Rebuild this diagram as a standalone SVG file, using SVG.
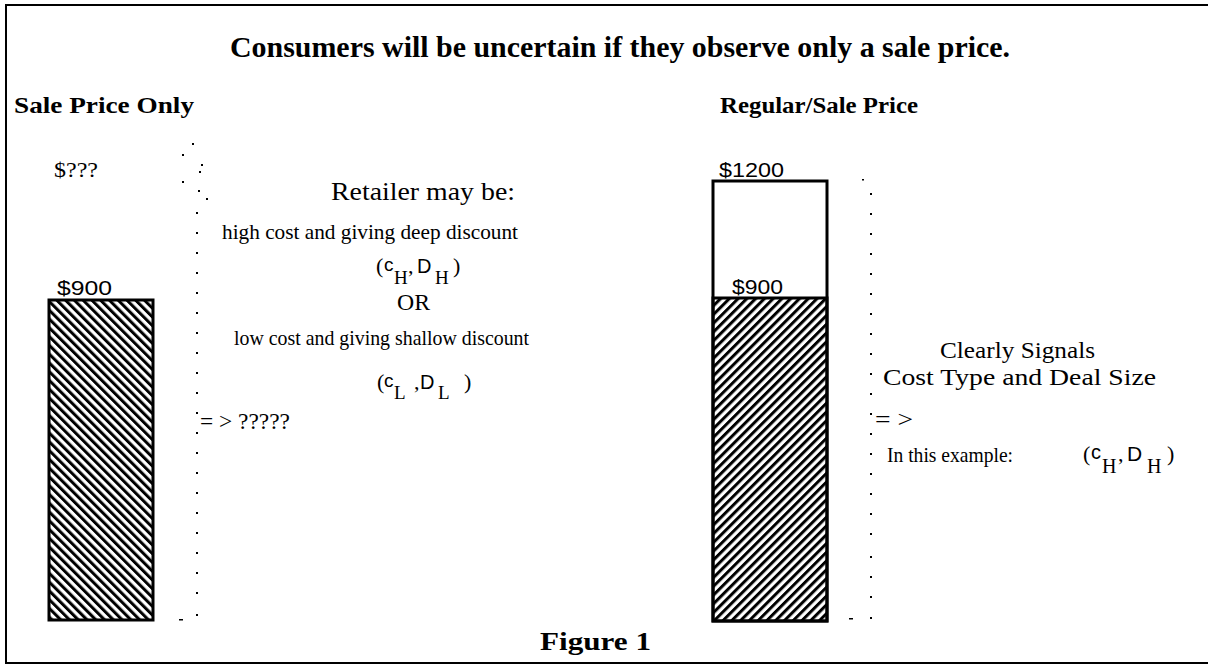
<svg xmlns="http://www.w3.org/2000/svg" width="1208" height="664" viewBox="0 0 1208 664">
  <style>
    .serif { font-family: "Liberation Serif", "Times New Roman", serif; fill: #000; }
    .sans { font-family: "Liberation Sans", Arial, sans-serif; fill: #000; }
    .head { font-weight: bold; font-size: 24px; }
    .body { font-size: 22px; }
    .price { font-size: 21px; }
    .bar { stroke: #000; stroke-width: 3; }
    .dot { fill: #000; }
  </style>
  <defs>
    <!-- "\" hatching for the sale-price-only bar -->
    <pattern id="hatchBack" patternUnits="userSpaceOnUse" width="6.2" height="6.2" patternTransform="rotate(-45)">
      <rect width="3" height="6.2" fill="#000"/>
    </pattern>
    <!-- "/" hatching for the sale part of the regular/sale bar -->
    <pattern id="hatchFwd" patternUnits="userSpaceOnUse" width="6.2" height="6.2" patternTransform="rotate(45)">
      <rect width="3" height="6.2" fill="#000"/>
    </pattern>
  </defs>

  <rect width="1208" height="664" fill="#fff"/>

  <!-- frame -->
  <path d="M6,664 V5 H1208 M6,663 H1208" fill="none" stroke="#000" stroke-width="2"/>

  <!-- title -->
  <text class="serif" x="230" y="57" font-size="30" font-weight="bold" textLength="780" lengthAdjust="spacingAndGlyphs">Consumers will be uncertain if they observe only a sale price.</text>

  <!-- left panel: sale price only -->
  <g id="sale-only">
    <text class="serif head" x="14" y="113" textLength="180" lengthAdjust="spacingAndGlyphs">Sale Price Only</text>
    <text class="serif" x="54" y="177" font-size="22" textLength="44" lengthAdjust="spacingAndGlyphs">$???</text>
    <text class="sans price" x="57" y="295" textLength="55" lengthAdjust="spacingAndGlyphs">$900</text>
    <rect class="bar" x="49" y="300" width="104" height="320" fill="url(#hatchBack)"/>
  </g>

  <!-- middle text: possible interpretations -->
  <g id="interpretations">
    <text class="serif" x="331" y="200" font-size="25" textLength="184" lengthAdjust="spacingAndGlyphs">Retailer may be:</text>
    <text class="serif" x="222" y="239" font-size="21.5" textLength="296" lengthAdjust="spacingAndGlyphs">high cost and giving deep discount</text>
    <g id="pair-high-left">
      <text class="serif body" x="376" y="273">(</text>
      <text class="sans" x="384" y="271" font-size="19">c</text>
      <text class="serif" x="394" y="284" font-size="19">H</text>
      <text class="serif body" x="408" y="273">,</text>
      <text class="sans" x="417" y="273" font-size="20">D</text>
      <text class="serif" x="435" y="284" font-size="19">H</text>
      <text class="serif body" x="453" y="273">)</text>
    </g>
    <text class="serif" x="397" y="310" font-size="23" textLength="33" lengthAdjust="spacingAndGlyphs">OR</text>
    <text class="serif" x="234" y="345" font-size="21" textLength="295" lengthAdjust="spacingAndGlyphs">low cost and giving shallow discount</text>
    <g id="pair-low">
      <text class="serif body" x="377" y="389">(</text>
      <text class="sans" x="384" y="387" font-size="19">c</text>
      <text class="serif" x="394" y="399" font-size="19">L</text>
      <text class="serif body" x="414" y="389">,</text>
      <text class="sans" x="420" y="389" font-size="20">D</text>
      <text class="serif" x="438" y="399" font-size="19">L</text>
      <text class="serif body" x="464" y="389">)</text>
    </g>
    <text class="serif" x="200" y="429" font-size="23" textLength="90" lengthAdjust="spacingAndGlyphs">= &gt; ?????</text>
  </g>

  <!-- right panel: regular and sale price -->
  <g id="regular-sale">
    <text class="serif head" x="720" y="113" textLength="198" lengthAdjust="spacingAndGlyphs">Regular/Sale Price</text>
    <text class="sans price" x="719" y="177" textLength="65" lengthAdjust="spacingAndGlyphs">$1200</text>
    <rect class="bar" x="713" y="181" width="114" height="440" fill="#fff"/>
    <rect class="bar" x="713" y="298" width="114" height="323" fill="url(#hatchFwd)"/>
    <text class="sans price" x="732" y="294" textLength="51" lengthAdjust="spacingAndGlyphs">$900</text>
  </g>

  <!-- right text: conclusion -->
  <g id="conclusion">
    <text class="serif" x="940" y="358" font-size="24" textLength="155" lengthAdjust="spacingAndGlyphs">Clearly Signals</text>
    <text class="serif" x="883" y="385" font-size="24" textLength="273" lengthAdjust="spacingAndGlyphs">Cost Type and Deal Size</text>
    <text class="serif" x="875" y="427" font-size="23" textLength="38" lengthAdjust="spacingAndGlyphs">= &gt;</text>
    <text class="serif" x="887" y="462" font-size="21" textLength="126" lengthAdjust="spacingAndGlyphs">In this example:</text>
    <g id="pair-high-right">
      <text class="serif body" x="1083" y="461">(</text>
      <text class="sans" x="1091" y="459" font-size="20">c</text>
      <text class="serif" x="1102" y="473" font-size="20">H</text>
      <text class="serif body" x="1118" y="461">,</text>
      <text class="sans" x="1127" y="461" font-size="21">D</text>
      <text class="serif" x="1147" y="473" font-size="20">H</text>
      <text class="serif body" x="1167" y="461">)</text>
    </g>
  </g>

  <!-- dotted separators -->
  <g id="connectors">
    <g id="sep-left" class="dot">
      <rect x="192" y="143" width="2" height="2"/>
      <rect x="182" y="154" width="2" height="2"/>
      <rect x="201" y="164" width="2" height="2"/>
      <rect x="199" y="171" width="2" height="2"/>
      <rect x="182" y="181" width="2" height="2"/>
      <rect x="198" y="190" width="2" height="2"/>
      <rect x="206" y="198" width="2" height="2"/>
      <rect x="196" y="212" width="2" height="2"/>
      <rect x="196" y="232" width="2" height="2"/>
      <rect x="196" y="252" width="2" height="2"/>
      <rect x="196" y="272" width="2" height="2"/>
      <rect x="196" y="292" width="2" height="2"/>
      <rect x="196" y="312" width="2" height="2"/>
      <rect x="196" y="332" width="2" height="2"/>
      <rect x="196" y="352" width="2" height="2"/>
      <rect x="196" y="372" width="2" height="2"/>
      <rect x="196" y="392" width="2" height="2"/>
      <rect x="196" y="412" width="2" height="2"/>
      <rect x="196" y="432" width="2" height="2"/>
      <rect x="196" y="452" width="2" height="2"/>
      <rect x="196" y="472" width="2" height="2"/>
      <rect x="196" y="492" width="2" height="2"/>
      <rect x="196" y="512" width="2" height="2"/>
      <rect x="196" y="532" width="2" height="2"/>
      <rect x="196" y="552" width="2" height="2"/>
      <rect x="196" y="572" width="2" height="2"/>
      <rect x="196" y="592" width="2" height="2"/>
      <rect x="196" y="614" width="2" height="2"/>
      <rect x="179" y="619" width="4" height="1.5"/>
    </g>
    <g id="sep-right" class="dot">
      <rect x="862" y="179" width="2" height="1.5"/>
      <rect x="870" y="193" width="2" height="2"/>
      <rect x="870" y="213" width="2" height="2"/>
      <rect x="870" y="233" width="2" height="2"/>
      <rect x="870" y="253" width="2" height="2"/>
      <rect x="870" y="273" width="2" height="2"/>
      <rect x="870" y="293" width="2" height="2"/>
      <rect x="870" y="313" width="2" height="2"/>
      <rect x="870" y="333" width="2" height="2"/>
      <rect x="870" y="353" width="2" height="2"/>
      <rect x="870" y="373" width="2" height="2"/>
      <rect x="870" y="393" width="2" height="2"/>
      <rect x="870" y="413" width="2" height="2"/>
      <rect x="870" y="433" width="2" height="2"/>
      <rect x="870" y="453" width="2" height="2"/>
      <rect x="870" y="473" width="2" height="2"/>
      <rect x="870" y="493" width="2" height="2"/>
      <rect x="870" y="513" width="2" height="2"/>
      <rect x="870" y="533" width="2" height="2"/>
      <rect x="870" y="556" width="2" height="2"/>
      <rect x="870" y="576" width="2" height="2"/>
      <rect x="870" y="596" width="2" height="2"/>
      <rect x="870" y="617" width="2" height="2"/>
      <rect x="849" y="618" width="4" height="1.5"/>
    </g>
  </g>

  <!-- caption -->
  <text class="serif" x="540" y="650" font-size="26" font-weight="bold" textLength="111" lengthAdjust="spacingAndGlyphs">Figure 1</text>
</svg>
